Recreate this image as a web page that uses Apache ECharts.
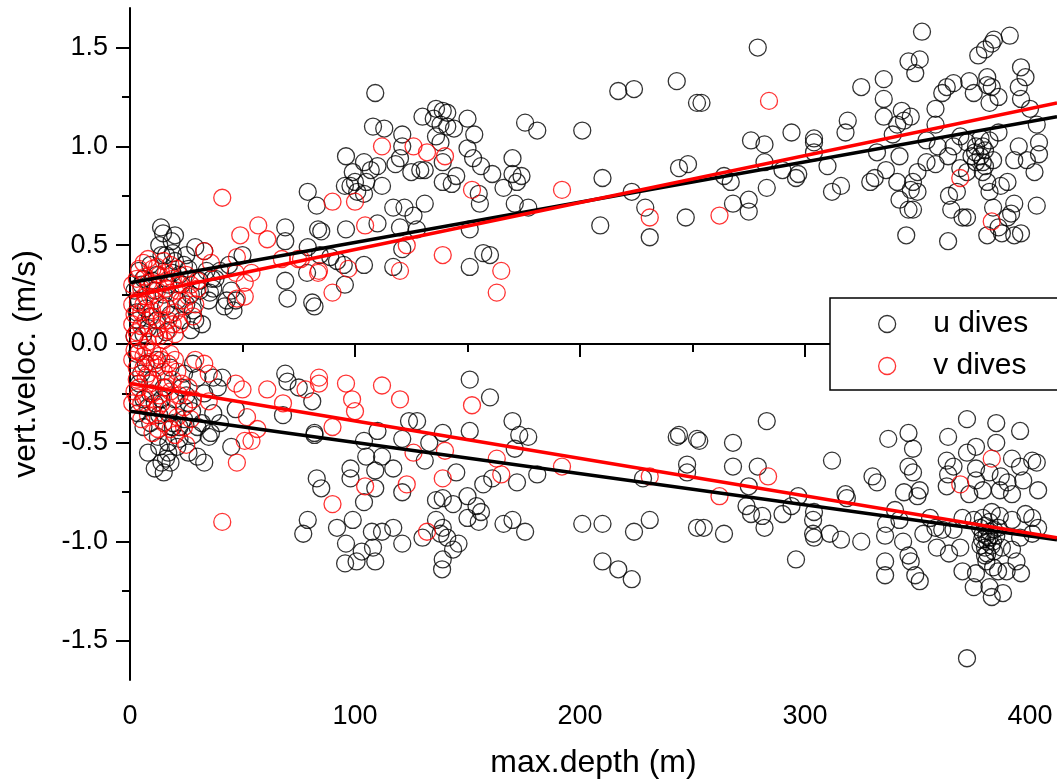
<!DOCTYPE html>
<html>
<head>
<meta charset="utf-8">
<script src="https://cdn.jsdelivr.net/npm/echarts@6/dist/echarts.min.js"></script>
<style>html,body{margin:0;padding:0;background:#fff;}#c{width:1057px;height:784px;}</style>
</head>
<body>
<div id="c"></div>
<script>
// ---- data (depth m, vertical velocity m/s) ----
const uUp = [
[13.8,0.59],[14.7,0.56],[18.5,0.52],[19,0.46],[29,0.49],[14,0.45],[9,0.40],[4,0.37],[6,0.33],[11,0.27],[17,0.30],[22,0.35],[27,0.25],[31,0.27],[35,0.22],[21,0.22],[16,0.19],[4,0.22],[2,0.27],[3.5,0.12],[8,0.08],[12,0.12],[18,0.15],[23,0.12],[31,0.32],[38,0.33],[40,0.37],[44,0.40],[45,0.27],[43,0.22],[46,0.17],[32,0.10],[27,0.07],[6,0.05],[11,0.04],[16,0.06],[2,0.04],[24,0.40],[10,0.32],[26,0.38],[33,0.47],
[5,0.30],[7,0.18],[12,0.35],[15,0.25],[19,0.36],[20,0.42],[23,0.30],[25,0.20],[28,0.17],[9,0.14],[3,0.16],[13,0.50],[16,0.45],[20,0.55],[25,0.45],[37,0.28],
[69,0.59],[69,0.52],[79,0.49],[83.6,0.58],[84.4,0.45],[78.7,0.36],[69,0.32],[70,0.23],[82,0.19],[42,0.19],[47,0.22],[35.5,0.26],[36.4,0.33],[34,0.37],[29,0.12],[50,0.45],
[109,1.27],[108,1.10],[113,1.09],[121,1.06],[121,1.00],[130,1.15],[136,1.19],[139,1.18],[141,1.17],[135,1.14],[138,1.11],[141,1.10],[144,1.09],[150,1.14],[153,1.06],[150,0.99],[152.5,0.94],[156,0.90],[136,1.05],[138,1.02],[139,0.92],[145,0.85],[143,0.81],[139,0.82],[161,0.86],[170,0.94],[170,0.86],[174,0.85],[172,0.82],[166,0.79],[155,0.76],[155.5,0.71],[171,0.71],[177,0.69],[175.6,1.12],[181,1.08],[201,1.08],[217,1.28],[224,1.29],[243,1.33],[252,1.22],[254,1.22],[210,0.84],[223,0.77],[229,0.69],[231,0.54],[209,0.60],[247,0.64],[244,0.89],[248,0.91],[151,0.58],[157,0.46],[160,0.45],[151,0.39],[117,0.39],[121,0.48],[96,0.58],[85,0.57],[83,0.70],[79,0.77],[96,0.95],[99,0.87],[100,0.82],[98,0.80],[104,0.92],[107,0.88],[110,0.90],[101,0.77],[105,0.82],[112,0.80],[118,0.91],[120,0.94],[125,0.87],[129,0.88],[131,0.88],[117,0.69],[122,0.69],[126,0.65],[131,0.71],[110,0.61],[120,0.59],[127.5,0.58],[95.5,0.80],[104,0.76],[95,0.40],[89,0.44],[92,0.42],[104,0.40],[95.5,0.30],[81,0.21],
[279,1.50],[352,1.58],[391,1.56],[384,1.54],[383,1.52],[380,1.49],[377,1.46],[346,1.43],[351,1.44],[349,1.37],[325,1.30],[335,1.34],[335,1.24],[335,1.15],[319,1.13],[318,1.07],[294,1.07],[276,1.03],[282,1.01],[304,1.04],[304,1.02],[304,0.97],[282,0.92],[290,0.88],[297,0.86],[296,0.84],[310,0.90],[264,0.85],[267,0.82],[283,0.79],[268,0.71],[275,0.73],[275,0.67],[312,0.77],[316,0.80],[329,0.82],[331,0.84],[332,0.97],[336,0.88],[342,0.95],[339,1.06],[341,1.11],[343,1.18],[347,1.15],[344,1.13],[358,1.19],[358,1.11],[361,1.27],[363,1.30],[366,1.32],[373,1.33],[375,1.27],[381,1.35],[381,1.31],[383,1.30],[386,1.25],[382,1.22],[396,1.40],[398,1.35],[395,1.30],[396,1.24],[400,1.19],[403,1.11],[404,1.02],[404,0.96],[402,0.87],[403,0.70],[395,1.00],[398.6,0.93],[393,0.93],[386,1.07],[382,1.03],[379,1.00],[375.6,0.97],[378,0.95],[383.6,0.93],[380,0.90],[376,0.92],[372,1.02],[369,1.05],[366,1.00],[363.6,0.95],[359,1.00],[354,1.03],[354,0.92],[348,0.82],[347,0.78],[350,0.77],[342,0.73],[346,0.68],[348,0.68],[364,0.75],[365,0.68],[367.5,0.77],[370,0.64],[372,0.64],[381,0.82],[382,0.77],[383.6,0.69],[386,0.59],[387.5,0.56],[381,0.55],[390,0.64],[391.6,0.66],[393,0.55],[396,0.56],[387,0.80],[390,0.82],[393,0.71],[345,0.55],[363.6,0.52],[341,0.82],[350,0.87],[358,0.91],[369,0.89],[372,0.87],[379,0.87],[376,1.00],[378,1.04],[380,0.98],[374,0.95],[379,0.92]
];
const uDown = [
[3,-0.05],[7,-0.10],[12,-0.08],[18,-0.12],[24,-0.15],[28,-0.10],[4,-0.20],[9,-0.25],[15,-0.22],[20,-0.28],[26,-0.30],[33,-0.25],[3.5,-0.35],[8,-0.32],[13,-0.36],[19,-0.40],[24,-0.38],[30,-0.42],[36,-0.45],[12.4,-0.47],[17,-0.50],[8,-0.55],[14,-0.60],[15,-0.65],[17,-0.55],[21,-0.52],[30,-0.57],[33,-0.60],[35,-0.47],[32,-0.40],[19,-0.42],[27.6,-0.34],[45,-0.52],[47,-0.33],[41,-0.17],[37,-0.17],[30,-0.17],[39,-0.22],[69,-0.15],[70,-0.19],[75,-0.22],[68,-0.36],[81,-0.29],[82,-0.45],[11,-0.63],[16,-0.58],[22,-0.48],[6,-0.42],[11,-0.30],[23,-0.22],
[5,-0.15],[10,-0.18],[14,-0.28],[17,-0.35],[22,-0.42],[25,-0.26],[28,-0.46],[9,-0.40],[6,-0.28],[18,-0.60],[13,-0.52],[26,-0.55],[37,-0.35],[40,-0.40],
[160,-0.27],[151,-0.18],[170,-0.39],[173,-0.46],[177,-0.47],[171,-0.53],[151,-0.44],[139,-0.45],[124,-0.39],[127.6,-0.39],[121,-0.48],[133,-0.50],[131,-0.59],[145,-0.65],[157,-0.71],[161,-0.68],[172,-0.70],[181,-0.66],[110,-0.44],[104,-0.49],[105,-0.57],[112,-0.57],[117,-0.63],[109,-0.64],[98,-0.63],[98,-0.68],[104,-0.80],[109,-0.73],[121,-0.75],[83,-0.68],[85,-0.73],[82,-0.46],[79,-0.89],[77,-0.96],[92,-0.93],[96,-1.01],[99,-0.89],[95.6,-1.11],[100.7,-1.10],[103,-1.05],[108,-1.03],[107.5,-0.95],[112,-0.95],[117,-0.93],[121,-1.01],[109,-1.10],[130,-0.98],[136,-0.79],[139,-0.78],[143.6,-0.81],[136,-0.89],[139,-0.93],[141,-0.98],[138,-0.96],[146,-1.01],[143.6,-1.04],[139,-1.09],[138.7,-1.14],[150,-0.77],[154,-0.82],[150,-0.88],[155,-0.90],[156,-0.85],[166,-0.91],[170,-0.89],[175.6,-0.95],[201,-0.91],[210,-0.91],[224,-0.95],[231,-0.89],[252,-0.93],[210,-1.10],[217,-1.14],[223,-1.19],[243,-0.47],[244,-0.46],[252,-0.48],[247.6,-0.61],[247.6,-0.65],[228,-0.68],
[372,-1.59],[283,-0.39],[268,-0.50],[253,-0.49],[268,-0.62],[279,-0.62],[275,-0.72],[274,-0.82],[276,-0.86],[281,-0.87],[282,-0.93],[290,-0.86],[294,-0.82],[297,-0.77],[296,-1.09],[304,-0.85],[303.6,-0.89],[303.6,-0.96],[304,-0.98],[311,-0.96],[316,-0.99],[325,-1.00],[312,-0.59],[318,-0.76],[318.6,-0.78],[264,-0.96],[255,-0.93],[337,-0.48],[346,-0.45],[348,-0.53],[346,-0.62],[348,-0.65],[351,-0.74],[350,-0.77],[344,-0.75],[330,-0.67],[332,-0.70],[340,-0.84],[342,-0.89],[336,-0.91],[335.6,-0.97],[343.6,-1.00],[346,-1.07],[347,-1.10],[335.6,-1.10],[335.6,-1.17],[349,-1.17],[351,-1.20],[363.6,-0.47],[372,-0.38],[385,-0.40],[395.6,-0.44],[376,-0.52],[385,-0.50],[363,-0.59],[366,-0.62],[363.6,-0.66],[363,-0.72],[372,-0.55],[376,-0.63],[376,-0.69],[373,-0.76],[382,-0.65],[387,-0.67],[392,-0.58],[395.6,-0.62],[401,-0.59],[403,-0.60],[403.6,-0.74],[397,-0.69],[390,-0.70],[392,-0.76],[386.6,-0.74],[379,-0.74],[398,-0.86],[401,-0.88],[403.6,-0.93],[401,-0.96],[395.6,-0.98],[392,-0.89],[386.6,-0.87],[383,-0.85],[379,-0.88],[375,-0.89],[370,-0.88],[366,-0.94],[361,-0.94],[358,-0.93],[352.6,-0.96],[355.6,-0.88],[358.6,-1.03],[364,-1.06],[369,-1.03],[370,-1.15],[375,-1.23],[376,-1.16],[380,-1.03],[380.6,-0.97],[382,-0.95],[381,-1.06],[383.6,-1.00],[380.6,-1.10],[383.6,-1.13],[385.8,-1.15],[382,-1.23],[383,-1.28],[388,-1.26],[389.6,-1.15],[394,-1.10],[396,-1.16],[392,-1.04],[387.5,-1.03],[377.8,-0.93],[378.7,-0.99],[380,-0.92],[382,-0.98],[384,-0.94],[381,-1.00],[379,-0.96],[383,-1.02],[385,-0.97],[378,-1.02],[382,-0.90],[386,-0.93],[380,-1.07],[384,-1.05]
];
const vUp = [
[8,0.43],[12,0.39],[21,0.38],[15.5,0.31],[6.7,0.34],[3.5,0.21],[9.8,0.17],[14,0.12],[20,0.16],[24,0.19],[5,0.09],[11,0.04],[17,0.07],[2,0.04],[2,0.15],[5,0.28],[9,0.24],[13,0.20],[18,0.26],[22,0.30],[26,0.24],[4,0.38],[10,0.30],[7,0.12],[15,0.02],[19,0.10],[1,0.30],[16,0.36],[11,0.22],[28,0.14],[3,0.33],[12,0.08],[6,0.20],[20,0.05],[25,0.35],[30,0.28],
[1,0.10],[3,0.06],[5,0.16],[7,0.24],[8,0.31],[10,0.14],[12,0.27],[13,0.35],[14,0.18],[16,0.28],[17,0.12],[19,0.33],[21,0.27],[22,0.10],[23,0.22],[6,0.41],[10,0.38],[15,0.42],[18,0.40],[4,0.02],[8,0.01],[13,0.04],[1,0.20],[27,0.30],[29,0.20],
[41,0.74],[57,0.60],[49,0.55],[61,0.53],[33,0.47],[36,0.41],[47.5,0.44],[47,0.36],[54,0.36],[51,0.31],[51,0.24],[47.5,0.23],[30,0.32],[67.5,0.43],[74.7,0.43],[83.6,0.36],
[112,1.00],[126,1.00],[132,0.97],[140,0.95],[152,0.78],[192,0.78],[231,0.64],[90,0.72],[100,0.72],[104.5,0.60],[123,0.50],[139,0.45],[165,0.37],[163,0.26],[120,0.37],[84,0.37],[97,0.38],[90,0.26],[76,0.43],[284,1.23],[262,0.65],[369,0.84],[383,0.62]
];
const vDown = [
[2,-0.03],[6,-0.06],[10,-0.04],[14,-0.08],[18,-0.05],[3,-0.12],[8,-0.15],[12,-0.12],[16,-0.18],[21,-0.14],[4,-0.22],[9,-0.20],[13,-0.26],[18,-0.24],[23,-0.20],[1,-0.30],[6.7,-0.27],[12.4,-0.32],[17,-0.33],[21,-0.37],[12.4,-0.43],[20,-0.46],[25,-0.51],[5,-0.38],[26,-0.22],[28,-0.28],[9,-0.09],[15,-0.14],[3,-0.18],[11,-0.36],
[1,-0.08],[4,-0.04],[7,-0.02],[11,-0.10],[13,-0.06],[17,-0.10],[20,-0.08],[2,-0.24],[5,-0.30],[7,-0.17],[10,-0.25],[14,-0.30],[16,-0.22],[19,-0.18],[22,-0.26],[24,-0.32],[8,-0.36],[15,-0.40],[18,-0.43],[24,-0.42],[27,-0.38],[10,-0.45],[6,-0.12],[3,-0.27],
[29,-0.08],[33,-0.10],[35,-0.15],[47,-0.20],[50,-0.23],[61,-0.23],[68,-0.30],[52,-0.37],[56.6,-0.43],[51,-0.49],[54,-0.49],[47.5,-0.60],[35,-0.29],[84,-0.17],[78,-0.23],[41,-0.90],
[112,-0.21],[120,-0.28],[152,-0.31],[98.7,-0.28],[100,-0.34],[90,-0.42],[126,-0.55],[140,-0.54],[163,-0.58],[165,-0.66],[192,-0.62],[231,-0.67],[139,-0.68],[104.5,-0.72],[123,-0.71],[90,-0.81],[132,-0.95],[84,-0.20],[96,-0.20],[283.6,-0.67],[262,-0.77],[369,-0.71],[383,-0.58]
];
// linear fits (endpoints)
const fitUUp = [[0,0.31],[412,1.15]];
const fitVUp = [[0,0.24],[412,1.22]];
const fitUDown = [[0,-0.34],[412,-0.99]];
const fitVDown = [[0,-0.20],[412,-0.98]];
// tick labels
const xMajor = [0,100,200,300,400];
const xMinor = [50,150,250,350];
const yMajor = [-1.5,-1.0,-0.5,0.0,0.5,1.0,1.5];
const yMinor = [-1.25,-0.75,-0.25,0.25,0.75,1.25];

const FONT = 'Liberation Sans, Arial, sans-serif';
const chart = echarts.init(document.getElementById('c'), null, {renderer:'canvas'});
const scatterStyle = c => ({color:'transparent', borderColor:c, borderWidth:1.3});
const lineSeries = (d,c) => ({type:'line', data:d, symbol:'none', silent:true, lineStyle:{color:c, width:3.5}, z:5});
chart.setOption({
  animation:false,
  backgroundColor:'#fff',
  grid:{left:130, right:0, top:8, bottom:104, containLabel:false},
  xAxis:[
    {type:'value', min:0, max:412, position:'bottom',
     name:'max.depth (m)', nameLocation:'middle', nameGap:67,
     nameTextStyle:{fontFamily:FONT, fontSize:32, color:'#000'},
     axisLine:{show:true, lineStyle:{color:'#000', width:2}},
     axisTick:{show:true, customValues:xMajor, length:13, lineStyle:{color:'#000', width:2}},
     axisLabel:{customValues:xMajor, fontFamily:FONT, fontSize:27, color:'#000', margin:23},
     splitLine:{show:false}},
    {type:'value', min:0, max:412, position:'bottom',
     axisLine:{show:false},
     axisTick:{show:true, customValues:xMinor, length:8, lineStyle:{color:'#000', width:2}},
     axisLabel:{show:false}, splitLine:{show:false}}
  ],
  yAxis:[
    {type:'value', min:-1.7, max:1.7, position:'left',
     name:'vert.veloc. (m/s)', nameLocation:'middle', nameGap:88,
     nameTextStyle:{fontFamily:FONT, fontSize:32, color:'#000', padding:[0,40,0,0]},
     axisLine:{show:true, lineStyle:{color:'#000', width:2}},
     axisTick:{show:true, customValues:yMajor, length:14, lineStyle:{color:'#000', width:2}},
     axisLabel:{customValues:yMajor, formatter:v=>Number(v).toFixed(1), fontFamily:FONT, fontSize:27, color:'#000', margin:22},
     splitLine:{show:false}},
    {type:'value', min:-1.7, max:1.7, position:'left',
     axisLine:{show:false},
     axisTick:{show:true, customValues:yMinor, length:8, lineStyle:{color:'#000', width:2}},
     axisLabel:{show:false}, splitLine:{show:false}}
  ],
  legend:{
    orient:'vertical', left:830, top:298,
    padding:[11,40,9,48], itemGap:12, itemWidth:82, itemHeight:17,
    borderColor:'#000', borderWidth:1.5, backgroundColor:'#fff',
    textStyle:{fontFamily:FONT, fontSize:30, color:'#000'},
    data:[
      {name:'u dives', icon:'circle', itemStyle:{color:'transparent', borderColor:'#000', borderWidth:1.3}},
      {name:'v dives', icon:'circle', itemStyle:{color:'transparent', borderColor:'#ff0000', borderWidth:1.3}}
    ]
  },
  series:[
    {name:'u dives', type:'scatter', symbol:'circle', symbolSize:17, data:uUp.concat(uDown), itemStyle:scatterStyle('#000'), z:2},
    {name:'v dives', type:'scatter', symbol:'circle', symbolSize:17, data:vUp.concat(vDown), itemStyle:scatterStyle('#ff0000'), z:3},
    Object.assign(lineSeries(fitUUp,'#000'),{name:'fitU1'}),
    Object.assign(lineSeries(fitUDown,'#000'),{name:'fitU2'}),
    Object.assign(lineSeries(fitVUp,'#ff0000'),{name:'fitV1', z:6}),
    Object.assign(lineSeries(fitVDown,'#ff0000'),{name:'fitV2', z:6})
  ]
});
</script>
</body>
</html>
